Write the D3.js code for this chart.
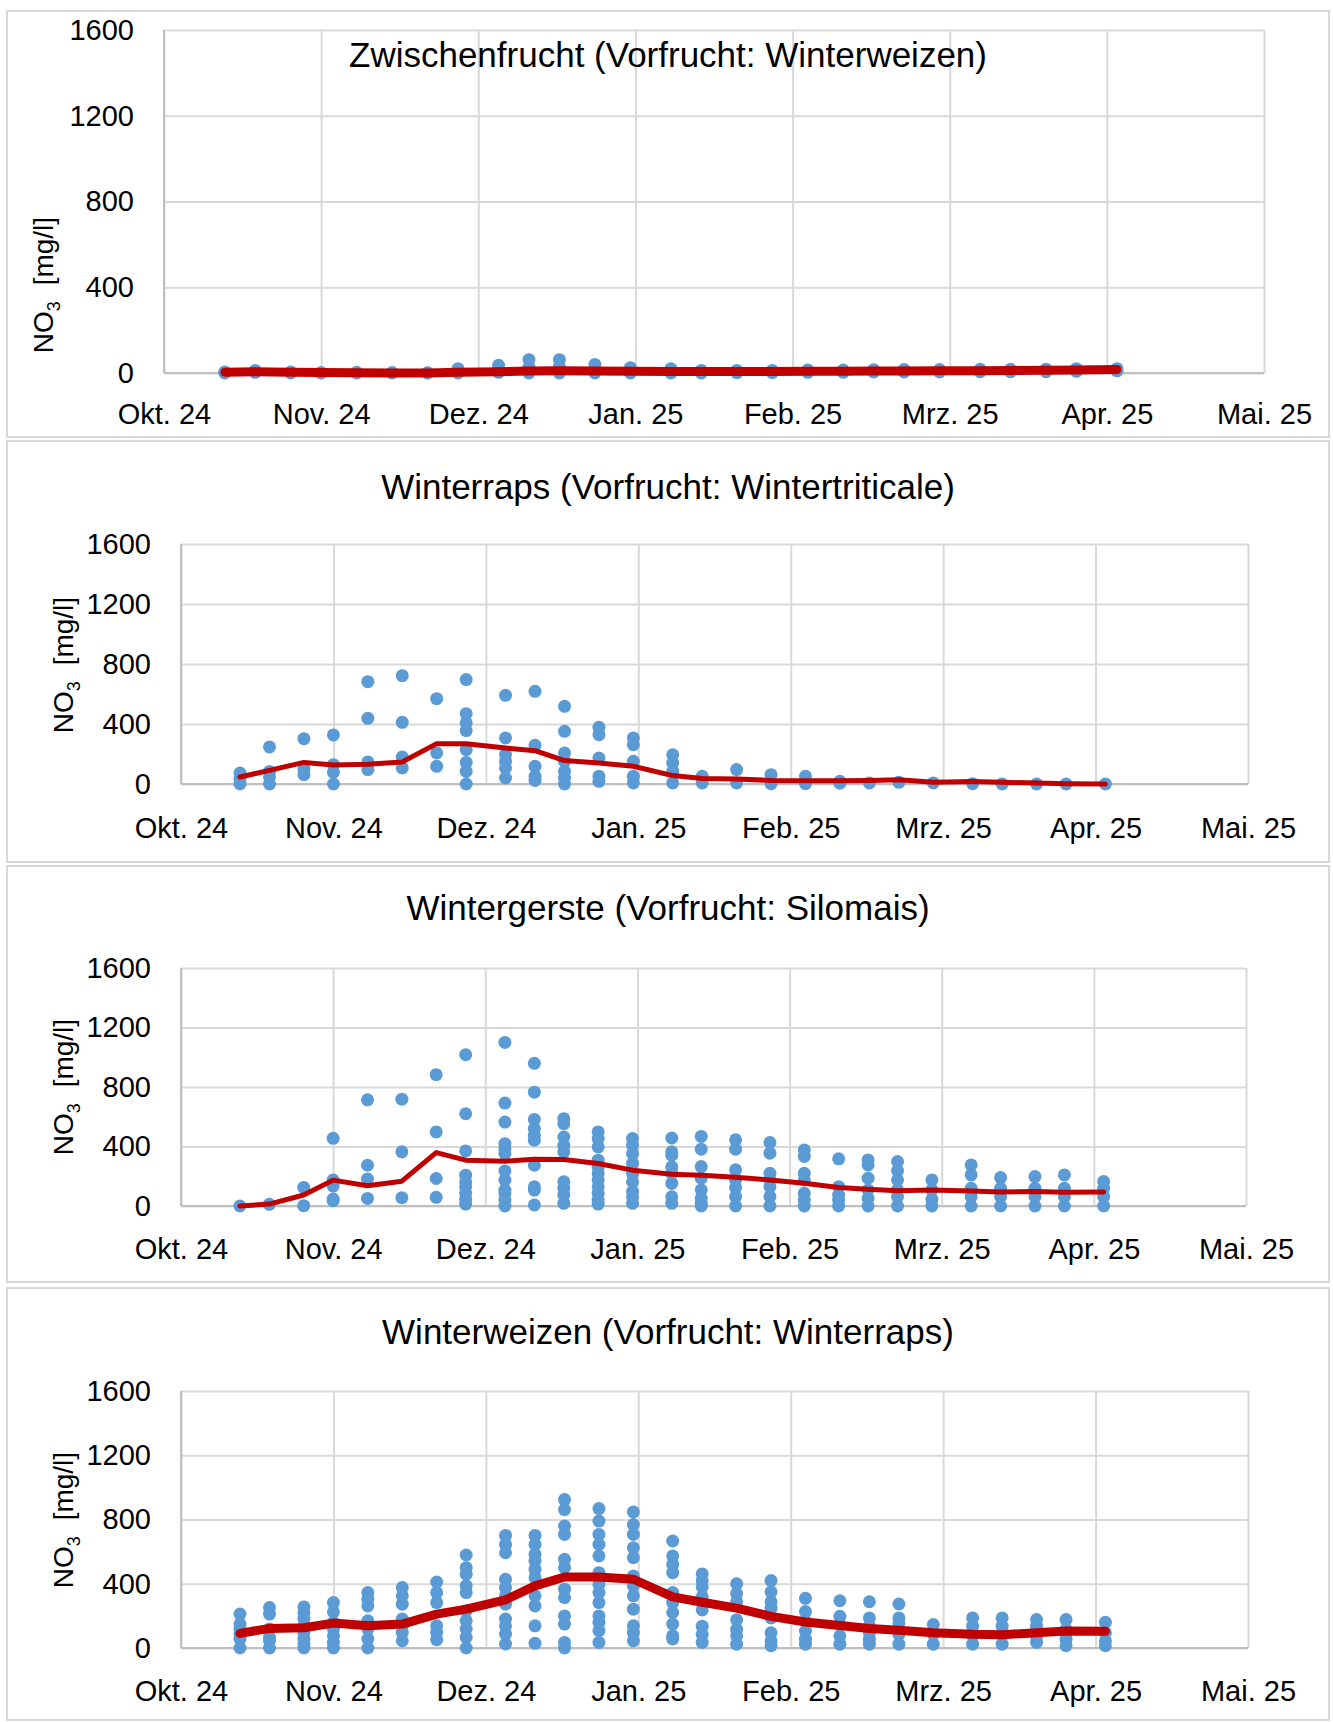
<!DOCTYPE html>
<html>
<head>
<meta charset="utf-8">
<script src="https://cdn.jsdelivr.net/npm/d3@7"></script>
<style>
	body { margin: 0; background: #fff; }
	svg text { font-family: "Liberation Sans", Arial, sans-serif; fill: #000; }
</style>
</head>
<body>
<svg id="chart" width="1333" height="1722"></svg>
<script>
// sampling dates (same for all four fields)
const sampleDates = ["2024-10-13", "2024-10-19", "2024-10-26", "2024-11-01", "2024-11-08", "2024-11-15",
	"2024-11-22", "2024-11-28", "2024-12-06", "2024-12-12", "2024-12-18", "2024-12-25", "2025-01-01",
	"2025-01-09", "2025-01-15", "2025-01-22", "2025-01-29", "2025-02-05", "2025-02-12", "2025-02-18",
	"2025-02-24", "2025-03-03", "2025-03-11", "2025-03-17", "2025-03-24", "2025-03-30", "2025-04-07"];
const monthLabels = ["Okt. 24", "Nov. 24", "Dez. 24", "Jan. 25", "Feb. 25", "Mrz. 25", "Apr. 25", "Mai. 25"];
const yTicks = [0, 400, 800, 1200, 1600];

// Zwischenfrucht (Vorfrucht: Winterweizen)
const zwfTitle = "Zwischenfrucht (Vorfrucht: Winterweizen)";
const zwfPoints = [[0, 5], [3, 12], [0, 5], [0, 2], [0, 3], [0, 2], [0, 1], [0, 8, 20], [3, 15, 36],
	[0, 28, 62], [0, 28, 62], [0, 15, 40], [0, 10, 25], [0, 8, 20], [0, 12], [2, 12], [2, 12], [3, 14],
	[3, 14], [5, 15], [5, 16], [5, 16], [6, 17], [6, 17], [6, 18], [8, 20], [10, 20]];
const zwfMean = [4, 6, 3, 2, 1, 0, 0, 3, 6, 9, 10, 9, 8, 7, 7, 7, 7, 8, 8, 9, 9, 10, 11, 12, 13, 14, 16];

// Winterraps (Vorfrucht: Wintertriticale)
const rapsTitle = "Winterraps (Vorfrucht: Wintertriticale)";
const rapsPoints = [[0, 33, 73], [0, 47, 84, 247], [62, 100, 302], [0, 78, 129, 327], [96, 147, 438, 682],
	[107, 180, 411, 722], [118, 207, 569], [0, 84, 144, 229, 356, 407, 469, 696], [40, 107, 151, 196, 307, 591],
	[24, 51, 118, 258, 618], [0, 40, 84, 151, 207, 351, 518], [18, 51, 173, 329, 378], [7, 51, 151, 262, 307],
	[7, 84, 140, 195], [7, 51], [7, 96], [2, 62], [2, 51], [5, 18], [7], [11], [7], [2], [0], [0], [0], [0]];
const rapsMean = [47, 91, 144, 127, 131, 147, 269, 269, 240, 222, 156, 140, 118, 56, 37, 33, 24, 22, 22, 24,
	29, 11, 16, 11, 7, 2, 0];

// Wintergerste (Vorfrucht: Silomais)
const gersteTitle = "Wintergerste (Vorfrucht: Silomais)";
const gerstePoints = [[0], [11], [2, 125], [36, 47, 134, 174, 455], [51, 181, 274, 714], [56, 364, 718],
	[58, 185, 498, 883], [13, 45, 85, 129, 163, 207, 370, 620, 1017],
	[0, 40, 85, 107, 174, 236, 352, 386, 419, 564, 692, 1100],
	[7, 107, 129, 274, 442, 475, 520, 582, 765, 959],
	[18, 74, 118, 163, 364, 408, 464, 553, 587],
	[13, 40, 85, 129, 174, 219, 263, 308, 397, 453, 498],
	[18, 62, 96, 163, 219, 286, 352, 408, 453],
	[18, 62, 152, 219, 263, 341, 364, 457],
	[0, 18, 52, 108, 187, 265, 382, 468],
	[0, 63, 124, 175, 243, 382, 445],
	[0, 63, 130, 175, 220, 355, 427],
	[0, 40, 85, 175, 220, 333, 377],
	[0, 40, 74, 130, 317],
	[0, 52, 108, 187, 276, 310],
	[0, 63, 108, 175, 238, 299],
	[0, 45, 108, 175],
	[0, 63, 119, 209, 276],
	[0, 63, 119, 191],
	[0, 63, 119, 198],
	[0, 63, 119, 209],
	[0, 63, 119, 164]];
const gersteMean = [0, 13, 74, 174, 136, 167, 359, 308, 301, 315, 312, 286, 241, 214, 207, 193, 175, 153, 124,
	112, 103, 108, 101, 94, 97, 92, 94];

// Winterweizen (Vorfrucht: Winterraps)
const weizenTitle = "Winterweizen (Vorfrucht: Winterraps)";
const weizenPoints = [[0, 56, 87, 118, 149, 211], [0, 45, 66, 118, 211, 252], [0, 25, 56, 97, 138, 180, 221, 256],
	[0, 35, 76, 118, 159, 225, 283], [0, 56, 118, 169, 262, 304, 345], [45, 97, 138, 180, 273, 325, 376],
	[52, 97, 138, 283, 345, 411], [0, 66, 118, 169, 232, 345, 387, 459, 500, 579],
	[25, 87, 138, 180, 273, 325, 376, 428, 593, 645, 701],
	[29, 138, 262, 325, 438, 490, 541, 583, 645, 701],
	[0, 35, 149, 200, 314, 366, 500, 552, 707, 759, 862, 924],
	[35, 108, 159, 200, 283, 345, 397, 469, 573, 645, 707, 790, 868],
	[45, 97, 138, 242, 325, 387, 449, 562, 624, 707, 769, 847],
	[56, 76, 149, 221, 283, 345, 469, 521, 573, 666],
	[35, 85, 136, 237, 283, 319, 380, 420, 461],
	[24, 75, 116, 176, 288, 339, 400],
	[14, 45, 95, 187, 248, 288, 349, 420],
	[24, 55, 106, 166, 227, 309],
	[24, 75, 146, 197, 294],
	[24, 55, 95, 136, 187, 288],
	[24, 85, 156, 187, 274],
	[24, 85, 146],
	[24, 75, 136, 187],
	[24, 75, 136, 187],
	[35, 71, 136, 177],
	[14, 55, 116, 177],
	[14, 45, 95, 160]];
const weizenMean = [91, 122, 126, 155, 138, 149, 211, 242, 300, 387, 442, 442, 428, 318, 285, 248, 197, 162,
	140, 122, 110, 95, 85, 83, 95, 106, 104];

// layout of the four stacked charts: box = frame, plot = [left, top, right, bottom]
const panels = [
	{title: zwfTitle, points: zwfPoints, mean: zwfMean, box: [7, 11, 1329, 437], plot: [164, 30, 1264, 373],
		titleY: 55, yTitle: [43, 285], lineWidth: 9, xGap: 30},
	{title: rapsTitle, points: rapsPoints, mean: rapsMean, box: [7, 441, 1329, 862], plot: [181, 544, 1248, 784],
		titleY: 487, yTitle: [63, 665], lineWidth: 5, xGap: 33},
	{title: gersteTitle, points: gerstePoints, mean: gersteMean, box: [7, 866, 1329, 1282], plot: [181, 968, 1246, 1206],
		titleY: 908, yTitle: [63, 1087], lineWidth: 5, xGap: 32},
	{title: weizenTitle, points: weizenPoints, mean: weizenMean, box: [7, 1288, 1329, 1720], plot: [181, 1391, 1248, 1648],
		titleY: 1332, yTitle: [63, 1520], lineWidth: 9, xGap: 32}
];

const dotColor = "#5b9bd5";
const lineColor = "#c00000";
const gridColor = "#d9d9d9";
const axisColor = "#bfbfbf";

const svg = d3.select("#chart");
const parseDate = d3.utcParse("%Y-%m-%d");
const dates = sampleDates.map(parseDate);
const axisStart = parseDate("2024-10-01");
// the date axis steps 31 days per label, so every gridline is the same distance apart
const monthTicks = monthLabels.map((_, k) => d3.utcDay.offset(axisStart, 31 * k));

panels.forEach(drawPanel);

function drawPanel(p) {
	const [left, top, right, bottom] = p.plot;
	const g = svg.append("g");

	g.append("rect")
		.attr("x", p.box[0]).attr("y", p.box[1])
		.attr("width", p.box[2] - p.box[0]).attr("height", p.box[3] - p.box[1])
		.attr("fill", "#fff").attr("stroke", gridColor).attr("stroke-width", 2);

	const x = d3.scaleUtc().domain([axisStart, monthTicks[monthTicks.length - 1]]).range([left, right]);
	const y = d3.scaleLinear().domain([0, 1600]).range([bottom, top]);

	// gridlines
	g.append("g")
		.attr("transform", "translate(0," + bottom + ")")
		.call(d3.axisBottom(x).tickValues(monthTicks).tickSize(-(bottom - top)).tickFormat(""))
		.call(a => {
			a.select(".domain").remove();
			a.selectAll("line").attr("stroke", gridColor).attr("stroke-width", 2);
		});
	g.append("g")
		.attr("transform", "translate(" + left + ",0)")
		.call(d3.axisLeft(y).tickValues(yTicks).tickSize(-(right - left)).tickFormat(""))
		.call(a => {
			a.select(".domain").remove();
			a.selectAll("line").attr("stroke", gridColor).attr("stroke-width", 2);
		});

	// axis lines
	g.append("line")
		.attr("x1", left).attr("x2", right).attr("y1", y(0)).attr("y2", y(0))
		.attr("stroke", axisColor).attr("stroke-width", 2);
	g.append("line")
		.attr("x1", x(axisStart)).attr("x2", x(axisStart)).attr("y1", top).attr("y2", bottom)
		.attr("stroke", axisColor).attr("stroke-width", 2);

	// tick labels
	g.append("g")
		.attr("transform", "translate(" + left + ",0)")
		.call(d3.axisLeft(y).tickValues(yTicks).tickSize(0).tickPadding(30).tickFormat(d3.format("d")))
		.call(a => a.select(".domain").remove())
		.attr("font-size", 29).attr("font-family", null);
	g.append("g")
		.attr("transform", "translate(0," + bottom + ")")
		.call(d3.axisBottom(x).tickValues(monthTicks).tickSize(0).tickPadding(p.xGap)
			.tickFormat((d, i) => monthLabels[i]))
		.call(a => a.select(".domain").remove())
		.attr("font-size", 29).attr("font-family", null);

	// title
	g.append("text")
		.attr("x", 668).attr("y", p.titleY).attr("dy", "0.35em")
		.attr("text-anchor", "middle").attr("font-size", 35)
		.text(p.title);

	// y axis title
	const yt = g.append("text")
		.attr("transform", "translate(" + p.yTitle[0] + "," + p.yTitle[1] + ") rotate(-90)")
		.attr("text-anchor", "middle").attr("dy", "0.35em").attr("font-size", 28);
	yt.append("tspan").text("NO");
	yt.append("tspan").attr("font-size", 18).attr("dy", 7).text("3");
	yt.append("tspan").attr("dy", -7).attr("dx", 8).text(" [mg/l]");

	// single measurements
	const flat = [];
	p.points.forEach((vals, i) => vals.forEach(v => flat.push({date: dates[i], value: v})));
	g.append("g")
		.selectAll("circle")
		.data(flat)
		.join("circle")
		.attr("cx", d => x(d.date))
		.attr("cy", d => y(d.value))
		.attr("r", 6.5)
		.attr("fill", dotColor);

	// mean line
	const line = d3.line()
		.x((d, i) => x(dates[i]))
		.y(d => y(d));
	g.append("path")
		.datum(p.mean)
		.attr("d", line)
		.attr("fill", "none")
		.attr("stroke", lineColor)
		.attr("stroke-width", p.lineWidth)
		.attr("stroke-linejoin", "round")
		.attr("stroke-linecap", "round");
}
</script>
</body>
</html>
